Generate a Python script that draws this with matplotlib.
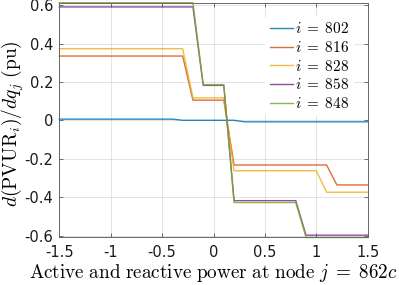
import numpy as np
import matplotlib
matplotlib.use('Agg')
import matplotlib.pyplot as plt

plt.rcParams['mathtext.fontset'] = 'cm'
plt.rcParams['axes.unicode_minus'] = False

# sweep of the active/reactive power at node 862c (pu)
x_pu = [-1.5, -1.4, -1.3, -1.2, -1.1, -1.0, -0.9, -0.8, -0.7, -0.6, -0.5,
        -0.4, -0.3, -0.2, -0.1, 0.0, 0.1, 0.2, 0.3, 0.4, 0.5,
        0.6, 0.7, 0.8, 0.9, 1.0, 1.1, 1.2, 1.3, 1.4, 1.5]

# sensitivities, one list per node i
sens_802 = [0.007, 0.007, 0.007, 0.007, 0.007, 0.007, 0.007, 0.007, 0.007, 0.007, 0.007,
            0.007, 0.001, 0.001, 0.001, 0.001, 0.001, 0.001, -0.007, -0.007, -0.007,
            -0.007, -0.007, -0.007, -0.007, -0.007, -0.007, -0.007, -0.007, -0.007, -0.007]
sens_816 = [0.336, 0.336, 0.336, 0.336, 0.336, 0.336, 0.336, 0.336, 0.336, 0.336, 0.336,
            0.336, 0.336, 0.106, 0.106, 0.106, 0.106, -0.232, -0.232, -0.232, -0.232,
            -0.232, -0.232, -0.232, -0.232, -0.232, -0.232, -0.336, -0.336, -0.336, -0.336]
sens_828 = [0.374, 0.374, 0.374, 0.374, 0.374, 0.374, 0.374, 0.374, 0.374, 0.374, 0.374,
            0.374, 0.374, 0.118, 0.118, 0.118, 0.118, -0.262, -0.262, -0.262, -0.262,
            -0.262, -0.262, -0.262, -0.262, -0.262, -0.374, -0.374, -0.374, -0.374, -0.374]
sens_858 = [0.592, 0.592, 0.592, 0.592, 0.592, 0.592, 0.592, 0.592, 0.592, 0.592, 0.592,
            0.592, 0.592, 0.592, 0.183, 0.183, 0.183, -0.418, -0.418, -0.418, -0.418,
            -0.418, -0.418, -0.418, -0.598, -0.598, -0.598, -0.598, -0.598, -0.598, -0.598]
sens_848 = [0.614, 0.614, 0.614, 0.614, 0.614, 0.614, 0.614, 0.614, 0.614, 0.614, 0.614,
            0.614, 0.614, 0.614, 0.187, 0.187, 0.187, -0.428, -0.428, -0.428, -0.428,
            -0.428, -0.428, -0.428, -0.610, -0.610, -0.610, -0.610, -0.610, -0.610, -0.610]

node_labels = ['802', '816', '828', '858', '848']
xtick_vals = [-1.5, -1, -0.5, 0, 0.5, 1, 1.5]
xtick_text = ['-1.5', '-1', '-0.5', '0', '0.5', '1', '1.5']
ytick_vals = [-0.6, -0.4, -0.2, 0, 0.2, 0.4, 0.6]
ytick_text = ['-0.6', '-0.4', '-0.2', '0', '0.2', '0.4', '0.6']

# matlab default colour order
colors = ['#0072BD', '#D95319', '#EDB120', '#7E2F8E', '#77AC30']
series = [sens_802, sens_816, sens_828, sens_858, sens_848]

fig = plt.figure(figsize=(3.99, 2.85), dpi=100)
ax = fig.add_axes([0.1486, 0.1667, 0.9216 - 0.1486, 0.9905 - 0.1667])

for s, c, lab in zip(series, colors, node_labels):
    ax.plot(x_pu, s, color=c, lw=1.0, alpha=0.85, label=r'$i\;=\;%s$' % lab, clip_on=False)

ax.set_xlim(-1.5, 1.5)
ax.set_ylim(-0.610, 0.614)
ax.set_xticks(xtick_vals, xtick_text, fontfamily='DejaVu Sans', fontsize=10.5)
ax.set_yticks(ytick_vals, ytick_text, fontfamily='DejaVu Sans', fontsize=10.5)
ax.tick_params(direction='in', length=3, width=0.6, top=True, right=True,
               color='0.35', labelcolor='0.1')
ax.tick_params(axis='x', pad=5.5)
ax.tick_params(axis='y', pad=4.3)
ax.grid(True, color='0.15', alpha=0.15, lw=0.6)
for sp in ax.spines.values():
    sp.set_color('0.4')
    sp.set_linewidth(0.7)

ax.set_xlabel(r'$\mathrm{Active\ and\ reactive\ power\ at\ node}\ j\;=\;862c$', fontsize=13.8, labelpad=1)
ax.set_ylabel(r'$d(\mathrm{PVUR}_i)/dq_j\ (\mathrm{pu})$', fontsize=14)
ax.yaxis.set_label_coords(-0.108, 0.483)

leg = ax.legend(loc='upper right', fontsize=11, frameon=True, framealpha=1.0,
                edgecolor='none', labelspacing=0.25, handlelength=1.5, handletextpad=0.15,
                borderaxespad=0.9, borderpad=0.3)

fig.savefig('out.png', dpi=100)
